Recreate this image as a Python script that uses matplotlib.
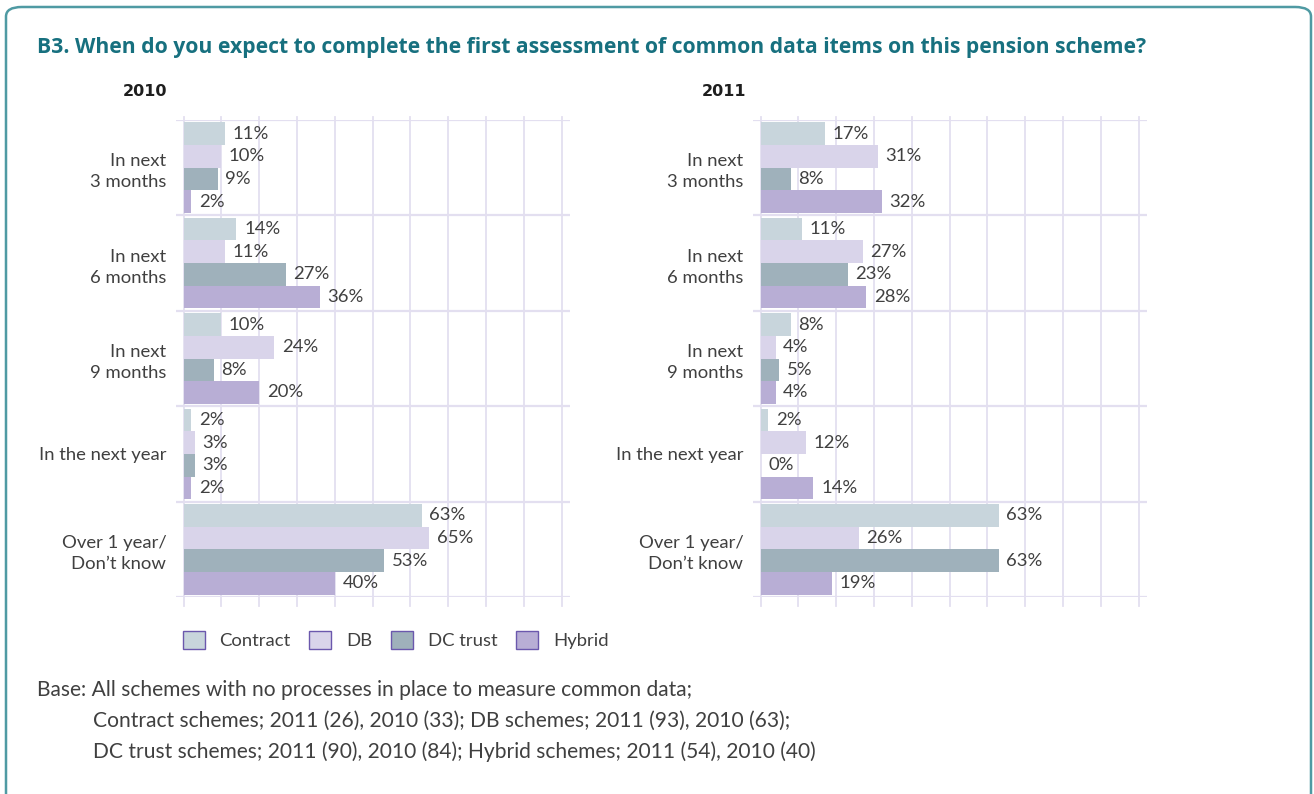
import numpy as np
import matplotlib.pyplot as plt
from matplotlib.patches import FancyBboxPatch, Patch

plt.rcParams['font.family'] = ['Lato', 'DejaVu Sans']

categories = ["In next\n3 months", "In next\n6 months", "In next\n9 months",
              "In the next year", "Over 1 year/\nDon\u2019t know"]
series = ["Contract", "DB", "DC trust", "Hybrid"]
colors = ["#c8d5dc", "#d9d4ea", "#9fb1bb", "#b8aed5"]

# rows = categories, columns = series
values_2010 = np.array([
    [11, 10, 9, 2],
    [14, 11, 27, 36],
    [10, 24, 8, 20],
    [2, 3, 3, 2],
    [63, 65, 53, 40],
])
values_2011 = np.array([
    [17, 31, 8, 32],
    [11, 27, 23, 28],
    [8, 4, 5, 4],
    [2, 12, 0, 14],
    [63, 26, 63, 19],
])

title = "B3. When do you expect to complete the first assessment of common data items on this pension scheme?"
base_note = ["Base: All schemes with no processes in place to measure common data;",
             "Contract schemes; 2011 (26), 2010 (33); DB schemes; 2011 (93), 2010 (63);",
             "DC trust schemes; 2011 (90), 2010 (84); Hybrid schemes; 2011 (54), 2010 (40)"]

W, H = 1314, 794
fig = plt.figure(figsize=(W / 100, H / 100), dpi=100)
text_col = "#404040"
grid_col = "#e3dff0"
fs = 13.3


def fx(px):
    return px / W


def fy(py):
    return 1 - py / H


def draw_panel(left_px, right_px, data, year, year_x):
    ax = fig.add_axes([fx(left_px), fy(597), fx(right_px - left_px), fy(120) - fy(597)])
    n = len(categories)
    bar_h = 0.237
    y = np.arange(n)
    for j in range(len(series)):
        pos = y + (j - 1.5) * bar_h
        ax.barh(pos, data[:, j], height=bar_h, color=colors[j], zorder=3)
        for p, v in zip(pos, data[:, j]):
            ax.text(v + 2.0, p, f"{v}%", va="center", ha="left",
                    fontsize=fs, color=text_col, zorder=4)
    ax.set_xlim(-2, 102.2)
    ax.set_ylim(n - 0.5, -0.5)
    # vertical grid lines, poking a little past the top and bottom rows
    for g in range(0, 101, 10):
        ax.plot([g, g], [n - 0.5 + 0.09, -0.5 - 0.03], color=grid_col, lw=1.3,
                zorder=1, clip_on=False)
    for b in np.arange(n + 1) - 0.5:
        ax.axhline(b, color=grid_col, lw=1.6, zorder=1)
    for s in ax.spines.values():
        s.set_visible(False)
    ax.set_xticks([])
    ax.set_yticks(y)
    ax.set_yticklabels(categories, fontsize=fs, color=text_col, linespacing=1.4)
    ax.tick_params(axis="y", length=0, pad=7)
    fig.text(fx(year_x), fy(92), year, ha="right", va="center",
             fontsize=11.5, fontweight="bold", color="#1e1e1e", family="DejaVu Sans")
    return ax


draw_panel(176, 570, values_2010, "2010", 167)
draw_panel(753, 1147, values_2011, "2011", 746)

# outer rounded frame
frame = FancyBboxPatch((fx(6), fy(830)), fx(1311) - fx(6), fy(7) - fy(830),
                       boxstyle="round,pad=0,rounding_size=0.012",
                       transform=fig.transFigure, fill=False,
                       edgecolor="#4f9aa3", lw=1.8)
fig.patches.append(frame)

fig.text(fx(37), fy(47), title, ha="left", va="center", fontsize=15.2,
         fontweight="bold", color="#17707f", family=["Open Sans", "DejaVu Sans"])

handles = [Patch(facecolor=c, edgecolor="#6b58ad", lw=1.0) for c in colors]
fig.legend(handles, series, loc="center left", bbox_to_anchor=(fx(166), fy(640)),
           ncol=4, frameon=False, handlelength=1.2, handleheight=1.2,
           handletextpad=0.8, columnspacing=1.0, labelcolor=text_col,
           prop={"size": fs})

note_kw = dict(ha="left", va="center", fontsize=15.1, color=text_col)
fig.text(fx(37), fy(690), base_note[0], **note_kw)
fig.text(fx(93), fy(721), base_note[1], **note_kw)
fig.text(fx(93), fy(752), base_note[2], **note_kw)

fig.savefig("out.png", dpi=100, facecolor="white")
